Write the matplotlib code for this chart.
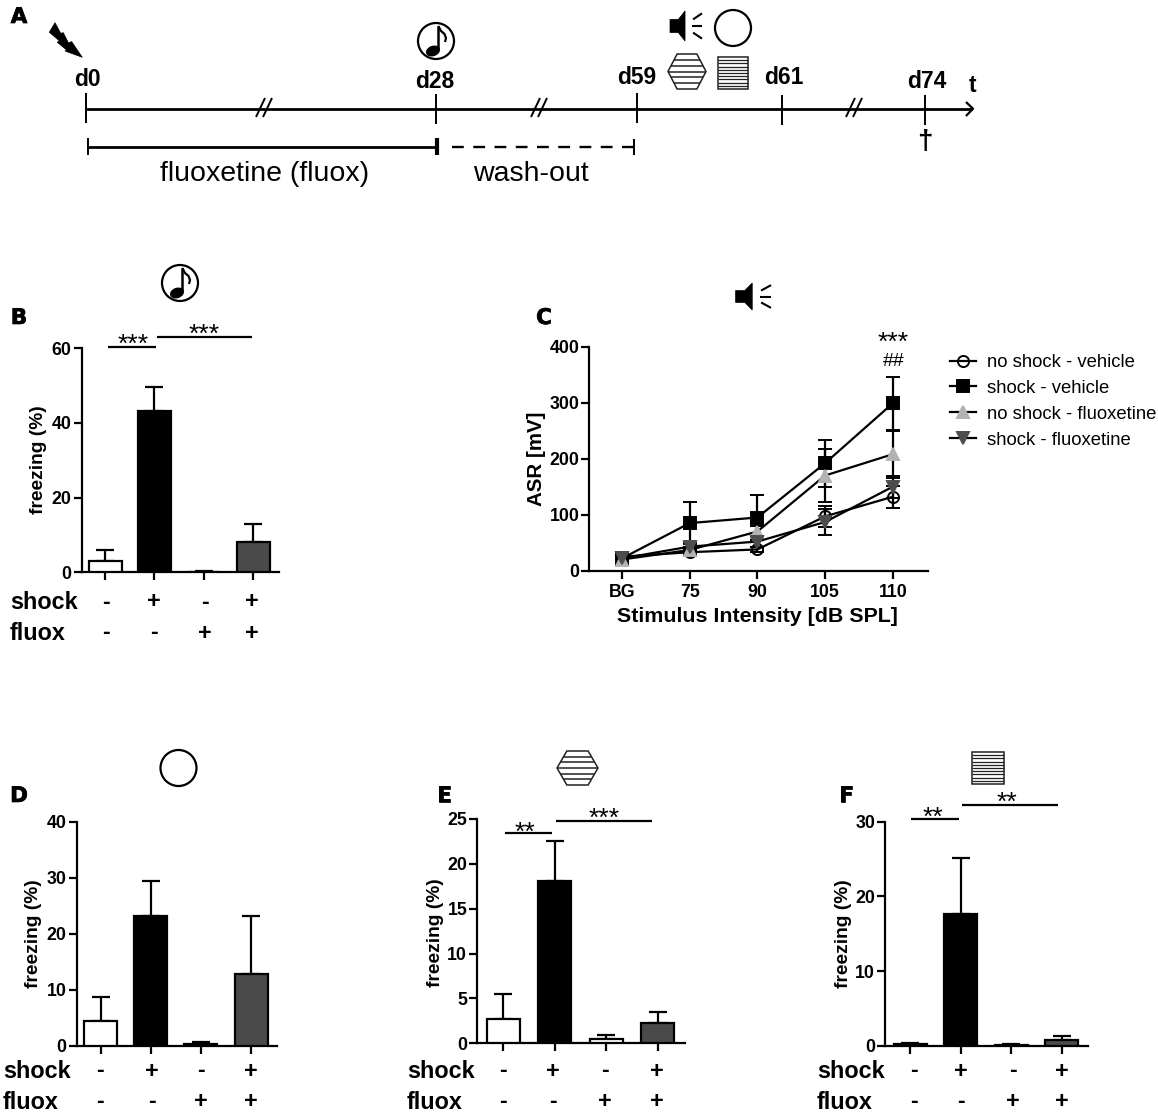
import numpy as np
import matplotlib
matplotlib.use("Agg")
import matplotlib.pyplot as plt
import matplotlib.patheffects as pe
from matplotlib.patches import Circle, Ellipse, Polygon, Rectangle

plt.rcParams['font.family'] = ['Liberation Sans', 'DejaVu Sans']

W, H = 1158, 1112
PX = 72 / 100  # points per pixel at dpi 100

# ---------- data ----------
bar_colors = ['white', 'black', 'white', '#4a4a4a']
shock_signs = ['-', '+', '-', '+']
fluox_signs = ['-', '-', '+', '+']

b_mean = [3.0, 43.2, 0.2, 8.2]
b_top = [6.0, 49.7, 0.3, 13.0]
d_mean = [4.4, 23.1, 0.3, 12.8]
d_top = [8.7, 29.5, 0.6, 23.2]
e_mean = [2.75, 18.1, 0.5, 2.3]
e_top = [5.5, 22.5, 0.9, 3.45]
f_mean = [0.25, 17.6, 0.15, 0.75]
f_top = [0.4, 25.2, 0.2, 1.35]

b_ticks = [0, 20, 40, 60]
d_ticks = [0, 10, 20, 30, 40]
e_ticks = [0, 5, 10, 15, 20, 25]
f_ticks = [0, 10, 20, 30]

c_cats = ['BG', '75', '90', '105', '110']
c_ticks = [0, 100, 200, 300, 400]
nsv_mean = [25, 33, 38, 97, 132]
nsv_err = [5, 5, 5, 19, 20]
sv_mean = [22, 85, 95, 192, 299]
sv_err = [3, 37, 40, 42, 47]
nsf_mean = [20, 37, 70, 170, 208]
nsf_err = [9, 5, 10, 48, 42]
sf_mean = [22, 43, 52, 87, 150]
sf_err = [5, 6, 10, 24, 20]

fig = plt.figure(figsize=(W / 100, H / 100), dpi=100, facecolor='white')
TICK_SIZE = 12.8


def make_axes(x0, x1, ytop, ybot, ymax, c0, c_last, n):
    ax = fig.add_axes([x0 / W, 1 - ybot / H, (x1 - x0) / W, (ybot - ytop) / H])
    slope = (c_last - c0) / (n - 1)
    ax.set_xlim((x0 - c0) / slope, (x1 - c0) / slope)
    ax.set_ylim(0, ymax)
    ax.patch.set_alpha(0)
    for s in ('top', 'right'):
        ax.spines[s].set_visible(False)
    for s in ('left', 'bottom'):
        ax.spines[s].set_linewidth(1.6)
    ax.tick_params(width=1.6, length=8 * PX, labelsize=TICK_SIZE, pad=1.5)
    ax.set_xticks(range(n))
    return ax, slope


def bar_panel(x0, x1, ytop, ybot, ymax, c0, c_last, means, tops, ticks, lab_x, lab_y):
    ax, slope = make_axes(x0, x1, ytop, ybot, ymax, c0, c_last, 4)
    xs = np.arange(4)
    errs = np.array(tops) - np.array(means)
    ax.errorbar(xs, means, yerr=[np.zeros(4), errs], fmt='none', ecolor='black',
                elinewidth=1.6, capsize=6.5, capthick=1.6, zorder=2)
    ax.bar(xs, means, width=33 / slope, color=bar_colors, edgecolor='black',
           linewidth=1.6, zorder=3)
    ax.set_yticks(ticks)
    ax.set_yticklabels([str(t) for t in ticks], fontweight='bold')
    ax.set_xticklabels([])
    fig.text(lab_x / W, 1 - lab_y / H, 'freezing (%)', rotation=90, ha='center', va='center',
             fontsize=13.8, fontweight='bold')
    return ax


bar_panel(81.7, 279, 348.3, 572.3, 60, 105, 253, b_mean, b_top, b_ticks, 38.5, 460)
bar_panel(76.7, 277, 821.7, 1045.7, 40, 100.7, 251, d_mean, d_top, d_ticks, 34, 934)
bar_panel(477.3, 685, 819, 1043.3, 25, 503, 657.7, e_mean, e_top, e_ticks, 435.5, 933)
bar_panel(885.3, 1087.7, 821.7, 1045.7, 30, 910, 1061.7, f_mean, f_top, f_ticks, 843.5, 934)

# ---------- panel C ----------
axc, _ = make_axes(589.4, 927.5, 346.7, 570.7, 400, 622, 892.8, 5)
GREY, DARK = '#b2b2b2', '#4d4d4d'
series = [
    (nsv_mean, nsv_err, 'no shock - vehicle', 'o', 'none', 'black', 8),
    (sv_mean, sv_err, 'shock - vehicle', 's', 'black', 'black', 8),
    (nsf_mean, nsf_err, 'no shock - fluoxetine', '^', GREY, GREY, 8.5),
    (sf_mean, sf_err, 'shock - fluoxetine', 'v', DARK, DARK, 8.5),
]
x5 = np.arange(5)
for m, e, lab, mk, fc, ec, ms in series:
    axc.errorbar(x5, m, yerr=e, color='black', lw=1.6, elinewidth=1.6, capsize=5, capthick=1.6,
                 marker=mk, mfc=fc, mec=ec, ms=ms, mew=1.4, label=lab, clip_on=False)
axc.set_xticks(x5)
axc.set_xticklabels(c_cats, fontweight='bold')
axc.set_yticks(c_ticks)
axc.set_yticklabels([str(t) for t in c_ticks], fontweight='bold')
axc.tick_params(axis='x', labelsize=TICK_SIZE, pad=4)
fig.text(537 / W, 1 - 459 / H, 'ASR [mV]', rotation=90, ha='center', va='center',
         fontsize=14.8, fontweight='bold')
fig.text(757.6 / W, 1 - 617 / H, 'Stimulus Intensity [dB SPL]', ha='center', va='center',
         fontsize=15.4, fontweight='bold')
handles, labels = axc.get_legend_handles_labels()
axc.legend([h[0] for h in handles], labels, loc='upper left',
           bbox_to_anchor=(950 / W, 1 - 354 / H), bbox_transform=fig.transFigure,
           frameon=False, fontsize=13.35, handlelength=1.4, handletextpad=0.6,
           borderpad=0, borderaxespad=0, labelspacing=0.48, numpoints=1)

# ---------- overlay in pixel coordinates ----------
ov = fig.add_axes([0, 0, 1, 1], zorder=10)
ov.set_xlim(0, W)
ov.set_ylim(H, 0)
ov.axis('off')
ov.patch.set_alpha(0)


def line(xs, ys, lw=1.6, **kw):
    ov.plot(xs, ys, color=kw.pop('color', 'black'), lw=lw, solid_capstyle='butt', **kw)


def txt(x, y, s, size, weight='normal', ha='center', va='center', **kw):
    return ov.text(x, y, s, fontsize=size, fontweight=weight, ha=ha, va=va, **kw)


def stars(x, y, s):
    txt(x, y + 12.4, s, 19, va='baseline')


def note(cx, cy, r=18):
    ov.add_patch(Circle((cx, cy), r, fc='white', ec='black', lw=1.6))
    ov.add_patch(Ellipse((cx - 3, cy + 10), 13, 9, angle=-20, fc='black', ec='black'))
    line([cx + 2.3, cx + 2.3], [cy + 9, cy - 15], lw=1.8)
    line([cx + 2.3, cx + 5, cx + 8.5, cx + 10, cx + 9], [cy - 15, cy - 10, cy - 7, cy - 3, cy + 1], lw=1.6)


def speaker(x0, x1, y0, y1):
    w, h = x1 - x0, y1 - y0
    my = (y0 + y1) / 2
    ov.add_patch(Polygon([(x0, my - 0.22 * h), (x0 + 0.26 * w, my - 0.22 * h), (x0 + 0.47 * w, y0),
                          (x0 + 0.47 * w, y1), (x0 + 0.26 * w, my + 0.22 * h), (x0, my + 0.22 * h)],
                         closed=True, fc='black', ec='black', lw=0.5))
    line([x0 + 0.72 * w, x1], [my - 0.22 * h, my - 0.42 * h], lw=1.5)
    line([x0 + 0.7 * w, x1], [my, my], lw=1.5)
    line([x0 + 0.72 * w, x1], [my + 0.22 * h, my + 0.42 * h], lw=1.5)


def hexagon(x0, x1, y0, y1):
    h = y1 - y0
    d = 0.24 * (x1 - x0)
    ov.add_patch(Polygon([(x0, (y0 + y1) / 2), (x0 + d, y0), (x1 - d, y0), (x1, (y0 + y1) / 2),
                          (x1 - d, y1), (x0 + d, y1)], closed=True, fc='white', ec='#222222', lw=1.1))
    for k in range(1, 6):
        yy = y0 + k * h / 6
        off = d * abs(yy - (y0 + y1) / 2) / (h / 2)
        line([x0 + off, x1 - off], [yy, yy], lw=1.1, color='#222222')


def striped_square(x0, x1, y0, y1, n=10):
    ov.add_patch(Rectangle((x0, y0), x1 - x0, y1 - y0, fc='white', ec='#222222', lw=1.1))
    for k in range(1, n):
        yy = y0 + k * (y1 - y0) / n
        line([x0, x1], [yy, yy], lw=0.9, color='#222222')


def sign_rows(label_x, ys, xs):
    txt(label_x, ys[0] + 1.5, 'shock', 16.8, 'bold', ha='left')
    txt(label_x, ys[1] + 1.5, 'fluox', 16.8, 'bold', ha='left')
    for x, s1, s2 in zip(xs, shock_signs, fluox_signs):
        txt(x, ys[0] + 1, s1, 16.8, 'bold')
        txt(x, ys[1] + 1, s2, 16.8, 'bold')


sign_rows(10, (601, 632), (106, 154, 205, 252))
sign_rows(3, (1070, 1100.7), (100, 152, 201, 251))
sign_rows(407, (1070, 1100.7), (503, 553, 605, 657))
sign_rows(817, (1070, 1100.7), (914, 961, 1013, 1062))

# significance
line([108, 155.7], [346.7, 346.7])
line([156.7, 251.7], [337, 337])
stars(132.7, 339, '***')
stars(204, 329, '***')
line([504.7, 552], [833, 833])
line([556, 652], [821, 821])
stars(525, 827, '**')
stars(604, 813, '***')
line([911, 959], [819.3, 819.3])
line([962, 1058], [805, 805])
stars(933, 812, '**')
stars(1007, 797, '**')
stars(893.6, 337, '***')
txt(893.6, 361, '##', 14)

# panel letters
for x, y, s in [(19, 17, 'A'), (19, 318, 'B'), (544, 318, 'C'), (19, 796, 'D'), (444, 796, 'E'), (846, 796, 'F')]:
    t = txt(x, y, s, 15.5, 'bold', family='DejaVu Sans')
    t.set_path_effects([pe.withStroke(linewidth=0.5, foreground='black')])

# panel icons
note(180, 283)
speaker(735.6, 771, 283, 310)
ov.add_patch(Circle((178.5, 768), 18, fc='white', ec='black', lw=1.6))
hexagon(557, 598, 751, 785)
striped_square(972, 1004, 752, 784)

# timeline
tx = [86, 436, 637, 782, 925]
ty = [(93, 123), (94, 124), (93, 123), (95, 125), (95, 125)]
ax_y = 108.7
line([86, 972], [ax_y, ax_y], lw=2)
line([966, 973, 966], [102, ax_y, 116], lw=1.6)
for x, (a, b) in zip(tx, ty):
    line([x, x], [a, b], lw=1.4)
for x in (265, 540, 855):
    line([x - 9, x], [117, 98], lw=1.4)
    line([x - 2, x + 7], [117, 98], lw=1.4)
for x, y, s in [(87, 79, 'd0'), (435, 81, 'd28'), (637, 77, 'd59'), (784, 78, 'd61'), (927, 81, 'd74'),
                (973, 85, 't')]:
    txt(x, y, s, 16.5, 'bold')
line([87.4, 437], [146.7, 146.7], lw=2)
line([88, 88], [138, 155], lw=1.4)
line([437, 437], [138, 155], lw=3)
ov.plot([452, 634], [146.7, 146.7], color='black', lw=1.7, dashes=(5, 4))
line([634, 634], [139, 155], lw=1.4)
txt(265, 174, 'fluoxetine (fluox)', 20.5)
txt(531, 174, 'wash-out', 20.5)
txt(925, 142, '†', 20, 'bold')

# timeline icons
ov.add_patch(Polygon([(55, 22.7), (49.3, 32.3), (59.3, 40.7), (57.3, 42.3), (66.7, 50), (65, 51),
                      (82.3, 57.3), (71.7, 41.7), (68.3, 42.7), (63.3, 32.7), (60.7, 33.3)],
                     closed=True, fc='black', ec='black', lw=0.5))
note(436, 41)
speaker(670, 702, 11, 41)
ov.add_patch(Circle((733, 28), 18, fc='white', ec='black', lw=1.6))
hexagon(668, 706, 54, 89)
striped_square(718, 748, 57, 89)

fig.savefig('out.png', dpi=100)
